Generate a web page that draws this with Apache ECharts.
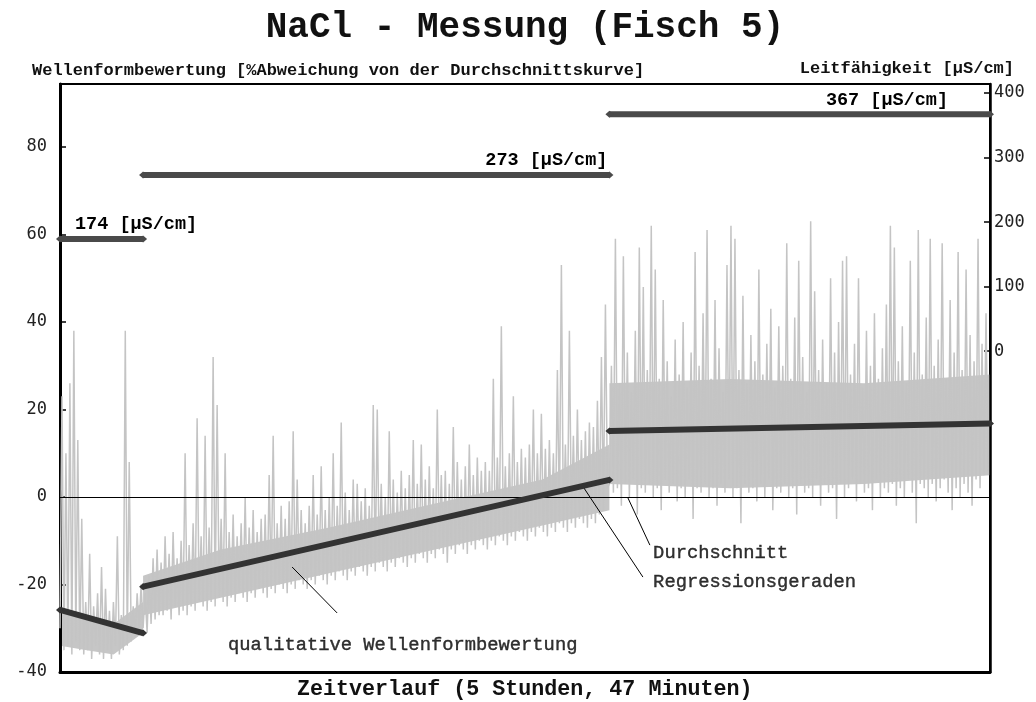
<!DOCTYPE html>
<html><head><meta charset="utf-8">
<script src="https://cdn.jsdelivr.net/npm/echarts@6/dist/echarts.min.js"></script>
<style>html,body{margin:0;padding:0;background:#fff}#c{width:1036px;height:702px}</style>
</head><body><div id="c"></div>
<script>
// time in minutes (5 h 47 min = 347 min)
const segStart = [0, 31, 205];
const segEnd = [31, 205, 347];
const condValues = [174, 273, 367];
const condLabels = ['174 [µS/cm]', '273 [µS/cm]', '367 [µS/cm]'];
const regStart = [-25.8, -20.5, 15.1];
const regEnd = [-31.1, 3.9, 16.8];
const sig1 = [-30,23,-35,10,-34,26,-36,38,-33,13,-35,-5,-36,-24,-35,-13,-37,-25,-34,-22,-36,-16,-37,-21,-35,-26,-37,-24,-34,-9,-36,-27,-35,38,-34,8,-33,-25,-32,-22,-30,-20];
const sig2 = [
-30,-22,-31,-18,-29,-14,-28,-12,-27,-15,
-27,-9,-26,-13,-28,-8,-25,-14,-27,-10,
-26,10,-27,-11,-25,-6,-26,18,-24,-9,
-25,14,-26,-7,-24,32,-25,21,-23,-5,
-24,10,-25,-8,-23,-4,-24,-9,-22,-6,
-23,0,-24,-7,-22,-3,-23,-8,-21,-5,
-22,-4,-23,5,-21,14,-22,-6,-20,-2,
-21,-5,-22,-1,-20,15,-21,4,-19,-3,
-20,-6,-21,-2,-19,5,-20,-4,-18,7,
-19,-3,-20,0,-18,10,-19,-2,-17,17,
-18,1,-19,-3,-17,4,-18,3,-16,-1,
-17,2,-18,-2,-16,21,-17,20,-15,3,
-16,0,-17,15,-15,4,-16,1,-14,6,
-15,2,-16,5,-14,13,-15,3,-13,12,
-14,4,-15,7,-13,2,-14,20,-12,5,
-13,6,-15,3,-12,16,-13,8,-11,4,
-12,7,-13,12,-11,5,-12,9,-10,6,
-11,8,-12,6,-10,27,-11,9,-9,39,
-10,7,-11,10,-9,23,-10,8,-8,11,
-9,9,-10,12,-8,20,-9,10,-7,19,
-8,11,-9,13,-7,10,-8,29,-6,53,
-7,12,-8,38,-6,14,-7,20,-5,13,
-6,15,-7,17,-5,16,-6,22,-4,32,
-3,44,2];
const sig3 = [
3,30,1,59,2,26,-2,55,3,33,
0,24,4,38,-4,57,2,48,1,29,
3,62,0,52,2,27,-3,45,4,31,
1,23,3,36,-1,28,2,40,0,25,
4,33,-5,56,2,30,1,42,3,61,
0,27,2,45,-2,34,3,24,1,53,
4,62,0,59,2,29,-6,46,3,26,
1,37,2,31,-1,52,3,28,0,35,
4,43,-3,25,2,39,1,30,3,58,
0,27,2,41,-4,54,3,32,1,24,
2,63,0,47,4,29,-2,36,3,26,
1,50,2,33,-5,40,3,54,0,55,
2,28,4,35,-1,50,3,25,1,38,
2,30,-3,42,4,27,0,34,2,44,
1,62,3,57,-2,31,2,39,0,26,
4,54,1,33,-6,61,3,28,2,41,
0,59,3,30,-1,36,2,58,4,27,
1,45,-3,33,2,56,0,29,3,52,
1,37,-2,31,4,59,2,35,5,42,6];
// dense core of the waveform signal (read envelope)
const band1T = [0, 10, 20, 31];
const band1Lo = [-34, -35, -36, -31];
const band1Hi = [-25, -28, -29, -24];
const band2T = [31, 60, 100, 140, 180, 205];
const band2Lo = [-27, -23, -17.5, -12, -6.5, -3];
const band2Hi = [-18, -12, -7, -1.5, 4, 12];
const band3T = [205, 250, 300, 347];
const band3Lo = [3, 2, 3, 5];
const band3Hi = [26, 27, 26, 28];
const leftTicks = [-40, -20, 0, 20, 40, 60, 80];
const rightTicks = [0, 100, 200, 300, 400];
const noteTexts = ['Durchschnitt', 'Regressionsgeraden', 'qualitative Wellenformbewertung'];
const notePos = [[221.3, -12.8], [221.3, -19.4], [62.7, -33.8]];
const leaders = [[[86.6, -16.0], [103.4, -26.5]], [[194.8, 2.7], [217.5, -18.3]], [[211.9, -0.2], [220.1, -11.0]]];

const MONO = '"Liberation Mono", "Courier New", monospace';
const sigData = [];
[sig1, sig2, sig3].forEach((s, k) => {
  const step = (segEnd[k] - segStart[k]) / s.length;
  s.forEach((v, i) => sigData.push([segStart[k] + i * step, v]));
});
const bands = [[band1T, band1Lo, band1Hi], [band2T, band2Lo, band2Hi], [band3T, band3Lo, band3Hi]];

const series = [];
series.push({
  type: 'custom', silent: true, z: 0,
  data: bands.map((b, i) => [b[0][0], b[1][0]]),
  renderItem: function (params, api) {
    const b = bands[params.dataIndex];
    const pts = [];
    b[0].forEach((t, j) => pts.push(api.coord([t, b[1][j]])));
    for (let j = b[0].length - 1; j >= 0; j--) pts.push(api.coord([b[0][j], b[2][j]]));
    return { type: 'polygon', shape: { points: pts }, style: { fill: '#c6c6c6' } };
  }
});
series.push({
  type: 'line', data: sigData, showSymbol: false, silent: true, z: 1,
  sampling: null,
  lineStyle: { color: '#c4c4c4', width: 1.5 }
});
series.push({
  type: 'line', data: [], z: 2, silent: true,
  markLine: { silent: true, symbol: 'none', label: { show: false },
    lineStyle: { color: '#000', width: 1, type: 'solid' }, data: [{ yAxis: 0 }] }
});
leaders.forEach(l => series.push({
  type: 'line', data: l, showSymbol: false, silent: true, z: 3,
  lineStyle: { color: '#000', width: 1 }
}));
for (let k = 0; k < 3; k++) {
  series.push({
    type: 'line', data: [[segStart[k], regStart[k]], [segEnd[k], regEnd[k]]],
    symbol: 'diamond', symbolSize: [8, 7], z: 5, silent: true,
    itemStyle: { color: '#333' }, lineStyle: { color: '#333', width: 6 }
  });
  const lab = { show: true, formatter: condLabels[k], position: 'top',
    fontFamily: MONO, fontWeight: 'bold', fontSize: 18.5, color: '#000' };
  const d0 = { value: [segStart[k], condValues[k]] };
  const d1 = { value: [segEnd[k], condValues[k]] };
  if (k === 0) { d0.label = Object.assign({}, lab, { align: 'left', offset: [15, 3] }); }
  else if (k === 1) { d1.label = Object.assign({}, lab, { align: 'right', offset: [-2, 3] }); }
  else { d1.label = Object.assign({}, lab, { align: 'right', offset: [-42, 4] }); }
  series.push({
    type: 'line', yAxisIndex: 1, data: [d0, d1],
    symbol: 'diamond', symbolSize: [8, 7], z: 5, silent: true,
    itemStyle: { color: '#4a4a4a' }, lineStyle: { color: '#4a4a4a', width: 6 }
  });
}
series.push({
  type: 'scatter', symbolSize: 0, silent: true, z: 6,
  data: notePos.map((p, i) => ({ value: p, name: noteTexts[i] })),
  label: { show: true, position: 'right', distance: 0, formatter: '{b}',
    fontFamily: MONO, fontSize: 18.8, color: '#000', textBorderColor: '#000', textBorderWidth: 0.4 }
});

const chart = echarts.init(document.getElementById('c'), null, { renderer: 'canvas' });
chart.setOption({
  animation: false,
  backgroundColor: '#fff',
  title: [
    { text: 'NaCl - Messung (Fisch 5)', left: 525, top: 10, textAlign: 'center', padding: 0,
      textStyle: { fontFamily: MONO, fontWeight: 'bold', fontSize: 36, color: '#111' } },
    { text: 'Wellenformbewertung [%Abweichung von der Durchschnittskurve]', left: 32, top: 62, padding: 0,
      textStyle: { fontFamily: MONO, fontWeight: 'bold', fontSize: 17, color: '#111' } },
    { text: 'Leitfähigkeit [µS/cm]', right: 22, top: 60, padding: 0,
      textStyle: { fontFamily: MONO, fontWeight: 'bold', fontSize: 17, color: '#111' } },
    { text: 'Zeitverlauf (5 Stunden, 47 Minuten)', left: 297, top: 679, padding: 0,
      textStyle: { fontFamily: MONO, fontWeight: 'bold', fontSize: 21.7, color: '#111' } }
  ],
  grid: { left: 60, right: 46, top: 84, bottom: 30, show: true, borderColor: '#000', borderWidth: 2, backgroundColor: 'transparent' },
  xAxis: { type: 'value', min: 0, max: 347,
    axisLine: { show: true, onZero: false, lineStyle: { color: '#000', width: 3 } },
    axisTick: { show: false }, axisLabel: { show: false }, splitLine: { show: false } },
  yAxis: [
    { type: 'value', min: -40, max: 94.4, position: 'left',
      axisLine: { show: true, onZero: false, lineStyle: { color: '#000', width: 3 } },
      axisTick: { show: true, inside: true, length: 6, customValues: leftTicks, lineStyle: { color: '#000', width: 1.5 } },
      axisLabel: { customValues: leftTicks, margin: 13, fontFamily: '"DejaVu Sans Mono", monospace', fontSize: 17, color: '#222' },
      splitLine: { show: false } },
    { type: 'value', min: -497, max: 414, position: 'right',
      axisLine: { show: true, onZero: false, lineStyle: { color: '#000', width: 2.5 } },
      axisTick: { show: true, inside: true, length: 6, customValues: rightTicks, lineStyle: { color: '#000', width: 1.5 } },
      axisLabel: { customValues: rightTicks, margin: 4, fontFamily: '"DejaVu Sans Mono", monospace', fontSize: 17, color: '#222' },
      splitLine: { show: false } }
  ],
  series: series
});
</script></body></html>
